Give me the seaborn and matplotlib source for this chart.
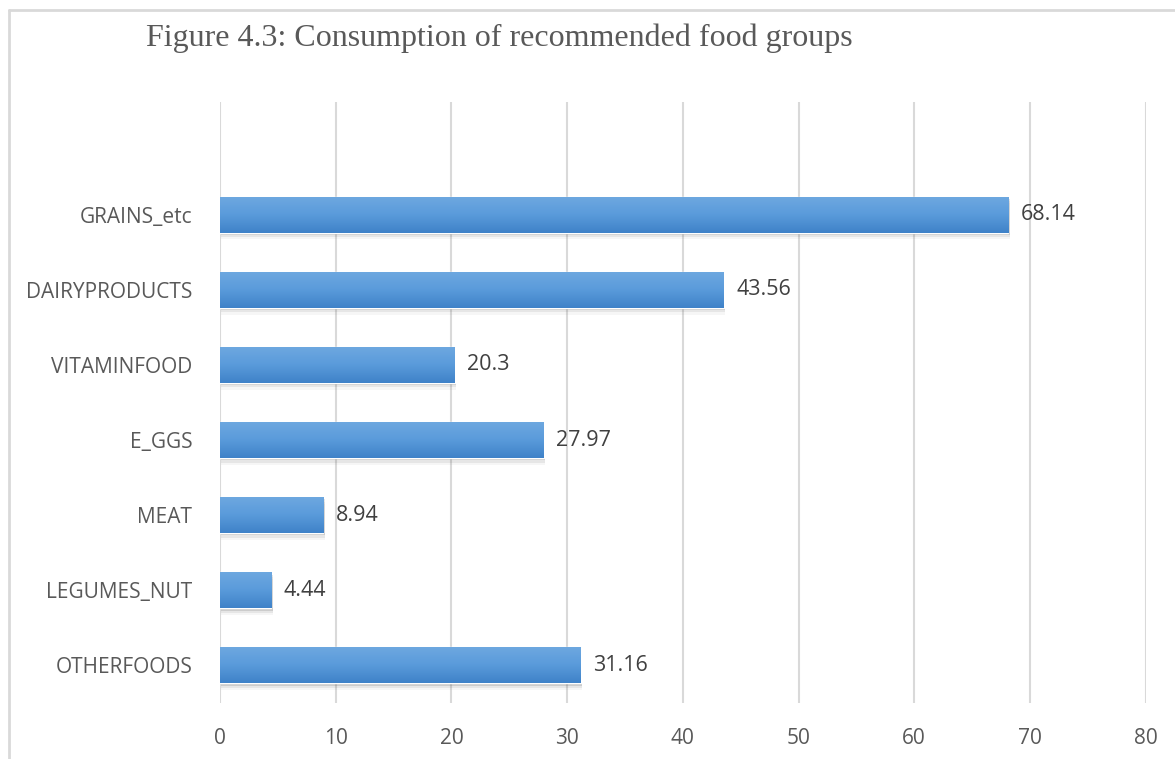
import matplotlib
matplotlib.use('Agg')
import matplotlib.pyplot as plt
import seaborn as sns
import numpy as np
import pandas as pd
from matplotlib.patches import Rectangle
from matplotlib.colors import LinearSegmentedColormap
from matplotlib.lines import Line2D

# Chart data
categories = ['GRAINS_etc', 'DAIRYPRODUCTS', 'VITAMINFOOD', 'E_GGS', 'MEAT', 'LEGUMES_NUT', 'OTHERFOODS']
values = [68.14, 43.56, 20.3, 27.97, 8.94, 4.44, 31.16]
value_labels = ['68.14', '43.56', '20.3', '27.97', '8.94', '4.44', '31.16']
x_ticks = [0, 10, 20, 30, 40, 50, 60, 70, 80]

df = pd.DataFrame({'group': categories, 'value': values})

sns.set_style('white')
plt.rcParams['font.family'] = ['Open Sans', 'DejaVu Sans']

fig = plt.figure(figsize=(11.75, 7.59), dpi=100)
ax = fig.add_axes([220 / 1175, 1 - 703 / 759, (1145.6 - 220) / 1175, (703 - 102) / 759])

sns.barplot(data=df, x='value', y='group', orient='h', color='#5B9BD5',
            width=0.48, ax=ax, saturation=1, zorder=3)

# gradient fill + soft shadow below each bar
cmap = LinearSegmentedColormap.from_list('bar', ['#6EA8E0', '#5A9BDB', '#3F82C8'])
grad = np.linspace(0, 1, 64).reshape(-1, 1)
for p in ax.patches:
    x0, y0 = p.get_x(), p.get_y()
    w, h = p.get_width(), p.get_height()
    for k, a in [(0.03, 0.18), (0.06, 0.10), (0.09, 0.05)]:
        sh = Rectangle((x0 + 0.1, y0 + k), w, h, facecolor='#595959', alpha=a,
                       edgecolor='none', zorder=2)
        ax.add_patch(sh)
    im = ax.imshow(grad, cmap=cmap, aspect='auto', extent=(x0, x0 + w, y0 + h, y0),
                   zorder=4, interpolation='bicubic')
    im.set_clip_path(p)

ax.set_xlim(0, 80)
ax.set_ylim(6.5, -1.5)
ax.set_xticks(x_ticks)
ax.set_xticklabels([str(t) for t in x_ticks])
ax.set_yticks(range(len(categories)))
ax.set_yticklabels(categories)
ax.set_xlabel('')
ax.set_ylabel('')

ax.grid(axis='x', color='#d9d9d9', linewidth=1.5, zorder=0)
ax.grid(axis='y', visible=False)
for s in ax.spines.values():
    s.set_visible(False)

ax.tick_params(axis='x', length=0, pad=18, labelsize=15, labelcolor='#595959')
ax.tick_params(axis='y', length=0, pad=20, labelsize=15, labelcolor='#595959')

ax.bar_label(ax.containers[0], labels=value_labels, padding=9, fontsize=15.5,
             color='#404040')

fig.text(0.425, 0.950, 'Figure 4.3: Consumption of recommended food groups',
         ha='center', va='center', fontsize=23, color='#595959',
         family=['Liberation Serif', 'DejaVu Serif'])

# outer frame (left and top edges visible)
fig.add_artist(Line2D([9 / 1175, 9 / 1175], [0, 1 - 10 / 759], transform=fig.transFigure,
                      color='#d9d9d9', linewidth=2))
fig.add_artist(Line2D([9 / 1175, 1], [1 - 10 / 759, 1 - 10 / 759], transform=fig.transFigure,
                      color='#d9d9d9', linewidth=2))

fig.savefig('out.png', dpi=100)
